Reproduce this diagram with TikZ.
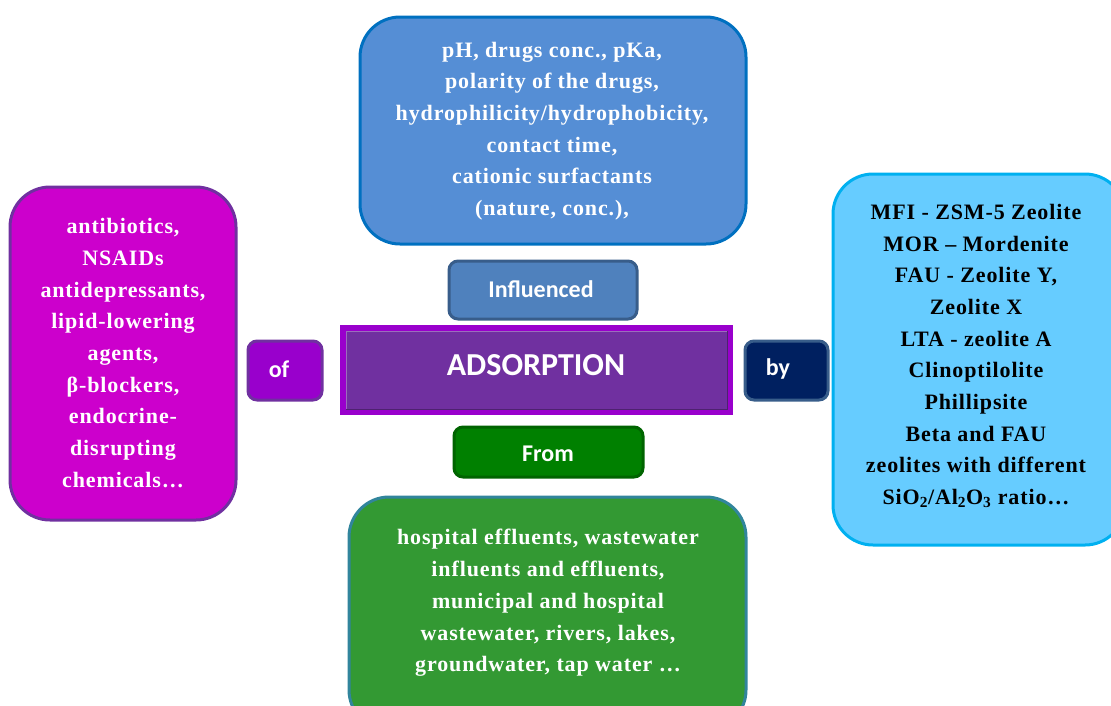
\documentclass[tikz,border=0pt]{standalone}
\usepackage{fontspec}
\setmainfont{Liberation Serif}
\newfontfamily\calib{Carlito}
\newfontfamily\spaced[LetterSpace=4]{Liberation Serif}
\definecolor{topfill}{HTML}{558ED5}
\definecolor{topdraw}{HTML}{0070C0}
\definecolor{inffill}{HTML}{4F81BD}
\definecolor{infdraw}{HTML}{385D8A}
\definecolor{adsfill}{HTML}{7030A0}
\definecolor{adsdraw}{HTML}{9900CC}
\definecolor{offill}{HTML}{9900CC}
\definecolor{ofdraw}{HTML}{7030A0}
\definecolor{byfill}{HTML}{002060}
\definecolor{bydraw}{HTML}{385D8A}
\definecolor{fromfill}{HTML}{008000}
\definecolor{fromdraw}{HTML}{006400}
\definecolor{botfill}{HTML}{339933}
\definecolor{botdraw}{HTML}{31859C}
\definecolor{leftfill}{HTML}{CC00CC}
\definecolor{leftdraw}{HTML}{7030A0}
\definecolor{rightfill}{HTML}{66CCFF}
\definecolor{rightdraw}{HTML}{00B0F0}
\tikzset{
  bigbox/.style={line width=3pt, rounded corners=40pt},
  smallbox/.style={line width=3pt, rounded corners=9pt},
  bigtext/.style={align=center, font=\spaced\bfseries\fontsize{22}{31.7}\selectfont, inner sep=0pt},
  smalltext/.style={font=\calib\bfseries\fontsize{24}{28}\selectfont, text=white, inner sep=0pt}
}
\begin{document}
\begin{tikzpicture}[x=1pt,y=-1pt]
\useasboundingbox (0,0) rectangle (1111,705);
\clip (0,0) rectangle (1111,705);
% top box
\draw[bigbox, fill=topfill, draw=topdraw] (360,17) rectangle (746,244);
\node[bigtext, text=white] (topt) at (552,131) {pH, drugs conc., pKa,\\polarity of the drugs,\\hydrophilicity/hydrophobicity,\\contact time,\\cationic surfactants\\(nature, conc.),};
% influenced
\draw[smallbox, fill=inffill, draw=infdraw] (449,261) rectangle (637,319);
\node[smalltext] (infl) at (541,289) {Influenced};
% adsorption
\fill[adsdraw] (340,325) rectangle (733,415);
\fill[adsfill] (346,331) rectangle (727,409);
\draw[line width=1pt, adsfill!70!black] (346,409) -- (727,409) -- (727,331);
\draw[line width=1pt, adsfill!70!white] (346,409) -- (346,331) -- (727,331);
\node[font=\calib\bfseries\fontsize{32}{38}\selectfont, text=white, inner sep=0pt] (ads) at (536,365) {ADSORPTION};
% of
\draw[smallbox, fill=offill, draw=ofdraw] (248,341) rectangle (322,400);
\node[smalltext] (of) at (279,369) {of};
% by
\draw[smallbox, fill=byfill, draw=bydraw] (745,341) rectangle (828,400);
\node[smalltext] (by) at (778,369) {by};
% from
\draw[smallbox, fill=fromfill, draw=fromdraw] (454,427) rectangle (643,477);
\node[smalltext] (from) at (548,454) {From};
% bottom box
\draw[bigbox, fill=botfill, draw=botdraw] (349,497) rectangle (746,730);
\node[bigtext, text=white] (bott) at (548,603) {hospital effluents, wastewater\\influents and effluents,\\municipal and hospital\\wastewater, rivers, lakes,\\groundwater, tap water …};
% left box
\draw[bigbox, fill=leftfill, draw=leftdraw] (10,187) rectangle (236,520);
\node[bigtext, text=white] (leftt) at (123,353) {antibiotics,\\NSAIDs\\antidepressants,\\lipid-lowering\\agents,\\β-blockers,\\endocrine-\\disrupting\\chemicals…};
% right box
\draw[bigbox, fill=rightfill, draw=rightdraw] (833,174) rectangle (1125,545);
\node[bigtext, text=black] (rightt) at (976,356) {MFI - ZSM-5 Zeolite\\MOR – Mordenite\\FAU - Zeolite Y,\\Zeolite X\\LTA - zeolite A\\Clinoptilolite\\Phillipsite\\Beta and FAU\\zeolites with different\\SiO\textsubscript{2}/Al\textsubscript{2}O\textsubscript{3} ratio…};
\end{tikzpicture}
\end{document}
